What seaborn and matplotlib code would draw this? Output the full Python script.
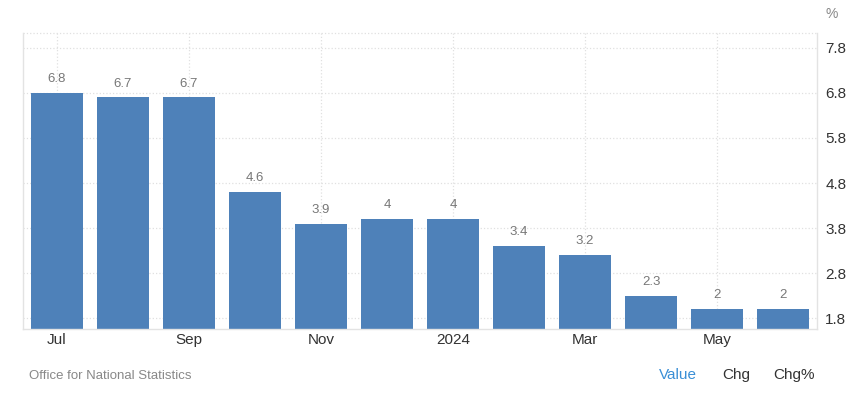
import pandas as pd
import matplotlib.pyplot as plt
import seaborn as sns

# Data
months = ['Jul', 'Aug', 'Sep', 'Oct', 'Nov', 'Dec', '2024', 'Feb', 'Mar', 'Apr', 'May', 'Jun']
values = [6.8, 6.7, 6.7, 4.6, 3.9, 4.0, 4.0, 3.4, 3.2, 2.3, 2.0, 2.0]
y_ticks = [1.8, 2.8, 3.8, 4.8, 5.8, 6.8, 7.8]
shown_labels = ['Jul', 'Sep', 'Nov', '2024', 'Mar', 'May']

df = pd.DataFrame({'month': months, 'value': values})

sns.set_style('white')
plt.rcParams['font.family'] = ['Liberation Sans', 'DejaVu Sans']

fig = plt.figure(figsize=(8.54, 3.93), dpi=100)
ax = fig.add_axes([23 / 854, 1 - 329 / 393, (817 - 23) / 854, (329 - 33) / 393])

sns.barplot(data=df, x='month', y='value', color='#4e81b9', saturation=1,
            width=0.79, linewidth=0, ax=ax, zorder=2)

ax.set_xlim(-0.515, 11.515)
ax.set_ylim(1.556, 8.133)

# value labels
for i, v in enumerate(values):
    ax.text(i, v + 0.17, f'{v:g}', ha='center', va='bottom', fontsize=9.5, color='#777777')

# y axis on the right
ax.yaxis.tick_right()
ax.set_yticks(y_ticks)
ax.set_yticklabels([f'{t:g}' for t in y_ticks])
ax.tick_params(axis='y', length=0, pad=6, labelsize=11, labelcolor='#333333')

# x ticks every other month
ticks = [i for i, m in enumerate(months) if m in shown_labels]
ax.set_xticks(ticks)
ax.set_xticklabels([months[i] for i in ticks])
ax.tick_params(axis='x', length=0, pad=3, labelsize=11, labelcolor='#333333')

ax.set_xlabel('')
ax.set_ylabel('')

# grid
ax.grid(True, axis='both', linestyle=':', color='#e0e0e0', linewidth=0.9)
ax.set_axisbelow(True)
ax.axhline(8.133, color='#e0e0e0', linestyle=':', linewidth=0.9, clip_on=False)

ax.spines['top'].set_visible(False)
for side in ['left', 'right', 'bottom']:
    ax.spines[side].set_visible(True)
    ax.spines[side].set_color('#e3e3e3')
    ax.spines[side].set_linewidth(1)

fig.text(826 / 854, 1 - 14 / 393, '%', ha='left', va='center', fontsize=10, color='#888888')
fig.text(29 / 854, 1 - 376 / 393, 'Office for National Statistics', ha='left', va='center',
         fontsize=9.5, color='#888888')
fig.text(659 / 854, 1 - 375 / 393, 'Value', ha='left', va='center', fontsize=11, color='#3a8fd6')
fig.text(722 / 854, 1 - 375 / 393, 'Chg', ha='left', va='center', fontsize=11, color='#333333')
fig.text(773 / 854, 1 - 375 / 393, 'Chg%', ha='left', va='center', fontsize=11, color='#333333')

fig.savefig('out.png', dpi=100)
